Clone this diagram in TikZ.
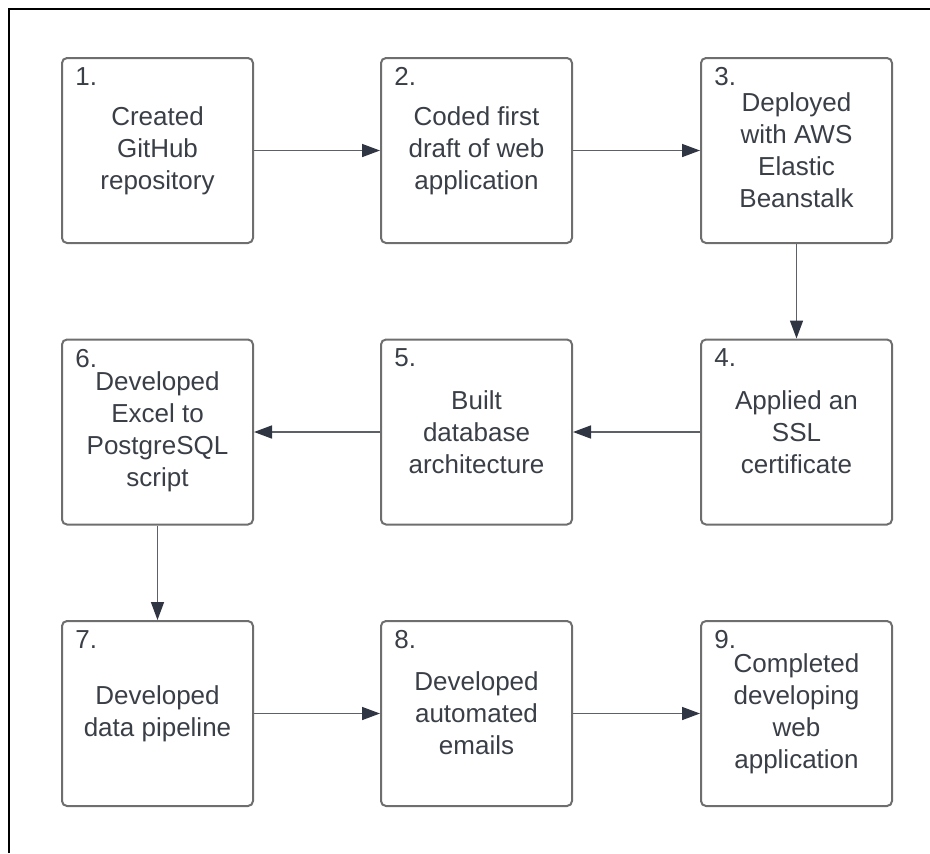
\documentclass[tikz,border=0pt]{standalone}
\usepackage{fontspec}
\setmainfont{Liberation Sans}
\usetikzlibrary{arrows.meta}
\definecolor{boxline}{HTML}{6E6E6E}
\definecolor{txt}{HTML}{3A3F47}
\definecolor{arrowline}{HTML}{5C6168}
\definecolor{arrowhead}{HTML}{2F3542}
\begin{document}
\begin{tikzpicture}[x=0.5pt,y=-0.5pt,
  stage/.style={draw=boxline,line width=1pt,rounded corners=2.5pt,fill=white,
    minimum width=95.5pt,minimum height=92.5pt,align=center,
    font=\fontsize{13}{16}\selectfont,text=txt},
  num/.style={anchor=north west,inner sep=0pt,font=\fontsize{13}{16}\selectfont,text=txt},
  flow/.style={draw=arrowline,line width=0.75pt,-{Triangle[length=9pt,width=6.5pt,color=arrowhead]}}]

  \useasboundingbox (0,0) rectangle (930,853);
  \draw[line width=1.25pt] (9,853) -- (9,9) -- (930,9);

  % row 1
  \node[stage] (b1) at (157.5,150.5) {Created\\GitHub\\repository};
  \node[stage] (b2) at (476.5,150.5) {Coded first\\draft of web\\application};
  \node[stage] (b3) at (796.5,150.5) {Deployed\\with AWS\\Elastic\\Beanstalk};
  % row 2
  \node[stage] (b4) at (796.5,432) {Applied an\\SSL\\certificate};
  \node[stage] (b5) at (476.5,432) {Built\\database\\architecture};
  \node[stage] (b6) at (157.5,432) {Developed\\Excel to\\PostgreSQL\\script};
  % row 3
  \node[stage] (b7) at (157.5,713.5) {Developed\\data pipeline};
  \node[stage] (b8) at (476.5,713.5) {Developed\\automated\\emails};
  \node[stage] (b9) at (796.5,713.5) {Completed\\developing\\web\\application};

  \node[num] (n1) at ([shift={(14,10)}]b1.north west) {1.};
  \node[num] (n2) at ([shift={(14,10)}]b2.north west) {2.};
  \node[num] (n3) at ([shift={(14,10)}]b3.north west) {3.};
  \node[num] (n4) at ([shift={(14,10)}]b4.north west) {4.};
  \node[num] (n5) at ([shift={(14,10)}]b5.north west) {5.};
  \node[num] (n6) at ([shift={(14,10)}]b6.north west) {6.};
  \node[num] (n7) at ([shift={(14,10)}]b7.north west) {7.};
  \node[num] (n8) at ([shift={(14,10)}]b8.north west) {8.};
  \node[num] (n9) at ([shift={(14,10)}]b9.north west) {9.};

  \path[flow]
   (b1) edge (b2)
   (b2) edge (b3)
   (b3) edge (b4)
   (b4) edge (b5)
   (b5) edge (b6)
   (b6) edge (b7)
   (b7) edge (b8)
   (b8) edge (b9);
\end{tikzpicture}
\end{document}
